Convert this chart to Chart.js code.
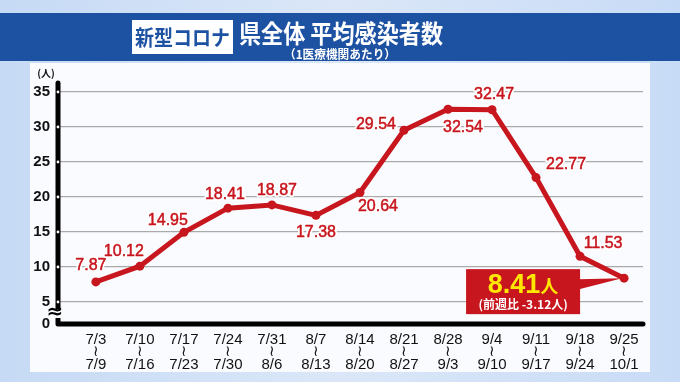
<!DOCTYPE html>
<html>
<head>
<meta charset="utf-8">
<script src="https://cdn.jsdelivr.net/npm/chart.js@4"></script>
<style>
  html, body { margin: 0; padding: 0; background: #d3e2f7; }
  #c { display: block; }
</style>
</head>
<body>
<canvas id="c" width="680" height="382"></canvas>
<script>
// 週の始まりと終わり
const weekStart = ['7/3', '7/10', '7/17', '7/24', '7/31', '8/7', '8/14', '8/21', '8/28', '9/4', '9/11', '9/18', '9/25'];
const weekEnd = ['7/9', '7/16', '7/23', '7/30', '8/6', '8/13', '8/20', '8/27', '9/3', '9/10', '9/17', '9/24', '10/1'];
// 1医療機関あたりの平均感染者数
const avgCases = [7.87, 10.12, 14.95, 18.41, 18.87, 17.38, 20.64, 29.54, 32.54, 32.47, 22.77, 11.53, 8.41];
const yTicks = [5, 10, 15, 20, 25, 30, 35];
const weekDiff = -3.12;

const RED = '#c8161e';
const BLUE = '#1d52a3';
const Y_MIN = 1.86;   // 波線で省略した軸の下端（"0" と表示）

// ラベルの位置（点からのずれ）
const labelOffsets = [[-5, -16], [-16, -15], [-16, -12], [-3, -14], [5, -14], [0, 17],
                      [18, 14], [-28, -6], [15, 18], [2, -15], [30, -13], [23, -13]];

const frame = {
    id: 'frame',
    beforeDraw(chart) {
        const ctx = chart.ctx;
        ctx.save();
        let g = ctx.createLinearGradient(0, 0, 680, 0);
        g.addColorStop(0, '#c6daf5');
        g.addColorStop(0.5, '#dbe7f8');
        g.addColorStop(1, '#c8dbf6');
        ctx.fillStyle = g;
        ctx.fillRect(0, 0, 680, 382);

        // パネル
        ctx.fillStyle = '#f9fbfe';
        ctx.fillRect(30, 63, 620, 309);

        // 見出し帯
        ctx.fillStyle = BLUE;
        ctx.fillRect(0, 13, 680, 48);
        ctx.fillStyle = '#ffffff';
        ctx.fillRect(132, 20, 101, 34);
        ctx.textBaseline = 'middle';
        ctx.textAlign = 'center';
        ctx.fillStyle = BLUE;
        ctx.font = 'bold 21px "Noto Sans CJK JP"';
        ctx.fillText('新型コロナ', 182.5, 37, 95);
        ctx.fillStyle = '#ffffff';
        ctx.textAlign = 'left';
        ctx.font = 'bold 25px "Noto Sans CJK JP"';
        ctx.fillText('県全体 平均感染者数', 239, 33, 204);
        ctx.textAlign = 'center';
        ctx.font = 'bold 12px "Noto Sans CJK JP"';
        ctx.fillText('（1医療機関あたり）', 340, 54, 112);

        ctx.fillStyle = '#111';
        ctx.font = 'bold 10px "Noto Sans CJK JP"';
        ctx.fillText('(人)', 46, 73);
        ctx.restore();
    },
    beforeDatasetsDraw(chart) {
        const ctx = chart.ctx;
        const a = chart.chartArea;
        const y = chart.scales.y;
        ctx.save();
        ctx.strokeStyle = '#000';
        ctx.lineWidth = 5;
        ctx.lineCap = 'round';
        ctx.lineJoin = 'round';
        ctx.beginPath();
        ctx.moveTo(a.left, a.top - 2);
        ctx.lineTo(a.left, a.bottom);
        ctx.lineTo(a.right, a.bottom);
        ctx.stroke();
        ctx.fillStyle = '#fff';
        yTicks.forEach(v => {
            ctx.beginPath();
            ctx.arc(a.left, y.getPixelForValue(v), 1.4, 0, Math.PI * 2);
            ctx.fill();
        });
        // 省略記号
        ctx.fillStyle = '#f9fbfe';
        ctx.fillRect(a.left - 4, 309, 8, 9);
        ctx.fillStyle = '#000';
        ctx.font = 'bold 20px "DejaVu Sans"';
        ctx.textAlign = 'center';
        ctx.textBaseline = 'middle';
        ctx.fillText('≈', a.left - 3, 313);
        ctx.restore();
    },
    afterDatasetsDraw(chart) {
        const ctx = chart.ctx;
        const pts = chart.getDatasetMeta(0).data;
        ctx.save();
        ctx.textAlign = 'center';
        ctx.textBaseline = 'middle';
        ctx.font = '16px "Liberation Sans"';
        ctx.lineJoin = 'round';
        labelOffsets.forEach((o, i) => {
            const p = pts[i];
            const t = avgCases[i].toFixed(2);
            ctx.strokeStyle = '#fff';
            ctx.lineWidth = 4;
            ctx.strokeText(t, p.x + o[0], p.y + o[1]);
            ctx.fillStyle = RED;
            ctx.fillText(t, p.x + o[0], p.y + o[1]);
            ctx.lineWidth = 0.5;
            ctx.strokeStyle = RED;
            ctx.strokeText(t, p.x + o[0], p.y + o[1]);
        });

        // 最新週の吹き出し
        const last = pts[pts.length - 1];
        const bx = last.x - 158, by = last.y - 9, bw = 114, bh = 45;
        ctx.fillStyle = RED;
        ctx.beginPath();
        ctx.moveTo(bx + bw - 1, by + 10);
        ctx.lineTo(last.x - 2, last.y);
        ctx.lineTo(bx + bw - 1, by + 20);
        ctx.closePath();
        ctx.fill();
        ctx.fillRect(bx, by, bw, bh);

        const val = avgCases[avgCases.length - 1].toFixed(2);
        ctx.fillStyle = '#ffe800';
        ctx.textAlign = 'left';
        ctx.font = 'bold 27px "Liberation Sans"';
        const w1 = ctx.measureText(val).width;
        ctx.font = 'bold 18px "Noto Sans CJK JP"';
        const w2 = ctx.measureText('人').width;
        let sx = bx + bw / 2 - (w1 + w2) / 2;
        ctx.font = 'bold 27px "Liberation Sans"';
        ctx.fillText(val, sx, by + 16);
        ctx.font = 'bold 18px "Noto Sans CJK JP"';
        ctx.fillText('人', sx + w1, by + 17);
        ctx.fillStyle = '#fff';
        ctx.textAlign = 'center';
        ctx.font = 'bold 12px "Noto Sans CJK JP"';
        ctx.fillText('(前週比 ' + weekDiff.toFixed(2) + '人)', bx + bw / 2, by + 35, 104);
        ctx.restore();
    }
};

new Chart(document.getElementById('c'), {
    type: 'line',
    data: {
        datasets: [{
            data: avgCases.map((v, i) => ({x: i, y: v})),
            borderColor: RED,
            backgroundColor: RED,
            borderWidth: 5,
            pointRadius: 4.5,
            pointBackgroundColor: RED,
            pointBorderWidth: 0,
            tension: 0,
            clip: false
        }]
    },
    options: {
        responsive: false,
        animation: false,
        devicePixelRatio: 1,
        layout: {padding: {left: 0, right: 37, top: 85, bottom: 0}},
        plugins: {legend: {display: false}, tooltip: {enabled: false}},
        scales: {
            x: {
                type: 'linear',
                min: -0.86,
                max: 12.43,
                afterBuildTicks: s => { s.ticks = weekStart.map((_, i) => ({value: i})); },
                afterFit: s => { s.height = 58; },
                grid: {display: false},
                border: {display: false},
                ticks: {
                    autoSkip: false,
                    maxRotation: 0,
                    padding: 1,
                    color: '#111',
                    font: {family: '"Liberation Sans"', size: 15, lineHeight: 0.86},
                    callback: v => [weekStart[v], '≀', weekEnd[v]]
                }
            },
            y: {
                min: Y_MIN,
                max: 36,
                afterBuildTicks: s => {
                    s.ticks = [{value: Y_MIN}].concat(yTicks.map(v => ({value: v})));
                },
                afterFit: s => { s.width = 58; },
                grid: {
                    drawTicks: false,
                    color: c => (c.tick && c.tick.value < 4) ? 'rgba(0,0,0,0)' : '#aaaaaa',
                    lineWidth: 1.3
                },
                border: {display: false},
                ticks: {
                    padding: 8,
                    color: '#111',
                    font: {family: '"Liberation Sans"', size: 15, weight: 'bold'},
                    callback: v => (v < 4 ? '0' : v)
                }
            }
        }
    },
    plugins: [frame]
});
</script>
</body>
</html>
